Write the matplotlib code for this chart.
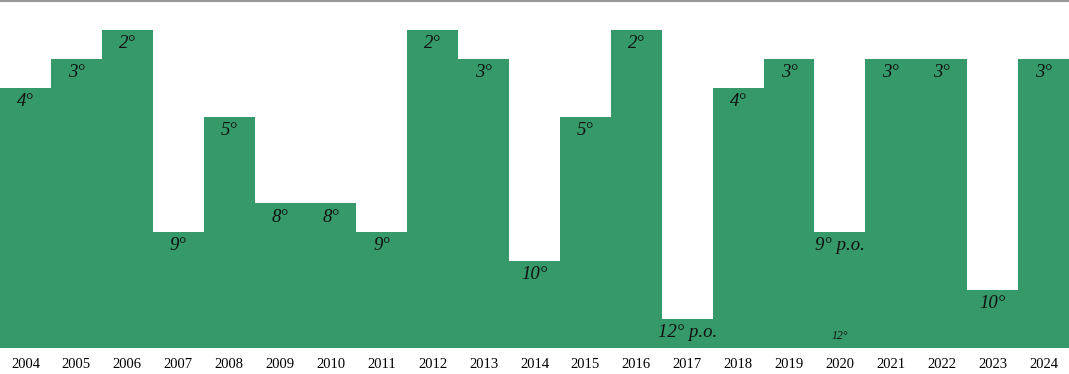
import matplotlib.pyplot as plt
import numpy as np

# Stagioni e livello della barra (13 - posizione)
anni = ['2004', '2005', '2006', '2007', '2008', '2009', '2010', '2011', '2012', '2013', '2014',
        '2015', '2016', '2017', '2018', '2019', '2020', '2021', '2022', '2023', '2024']
livello = [9, 10, 11, 4, 8, 5, 5, 4, 11, 10, 3, 8, 11, 1, 9, 10, 4, 10, 10, 2, 10]
etichette = ['4°', '3°', '2°', '9°', '5°', '8°', '8°', '9°', '2°', '3°', '10°',
             '5°', '2°', '12° p.o.', '4°', '3°', '9° p.o.', '3°', '3°', '10°', '3°']
# nota piccola sotto la barra del 2020
nota_anno = 16
nota_testo = '12°'

verde = '#359969'

fig = plt.figure(figsize=(10.69, 3.74), dpi=100)
ax = fig.add_axes([0, 26 / 374, 1, 347 / 374])

x = np.arange(len(anni))
ax.bar(x, livello, width=1.0, color=verde, linewidth=0)

for i, (h, t) in enumerate(zip(livello, etichette)):
    ax.text(i, h - 0.47, t, ha='center', va='center', fontsize=13.5,
            style='italic', family='Liberation Serif', color='#111111')

ax.text(nota_anno, 0.42, nota_testo, ha='center', va='center', fontsize=8.5,
        style='italic', family='Liberation Serif', color='#111111')

ax.set_xlim(-0.5, len(anni) - 0.5)
ax.set_ylim(0, 12)
ax.set_xticks(x)
ax.set_xticklabels(anni, family='Liberation Serif', fontsize=10.5)
ax.tick_params(axis='x', length=0, pad=7)
ax.set_yticks([])

for s in ['left', 'right', 'bottom']:
    ax.spines[s].set_visible(False)
ax.spines['top'].set_color('#999999')
ax.spines['top'].set_linewidth(1.5)

fig.savefig('out.png', dpi=100)
